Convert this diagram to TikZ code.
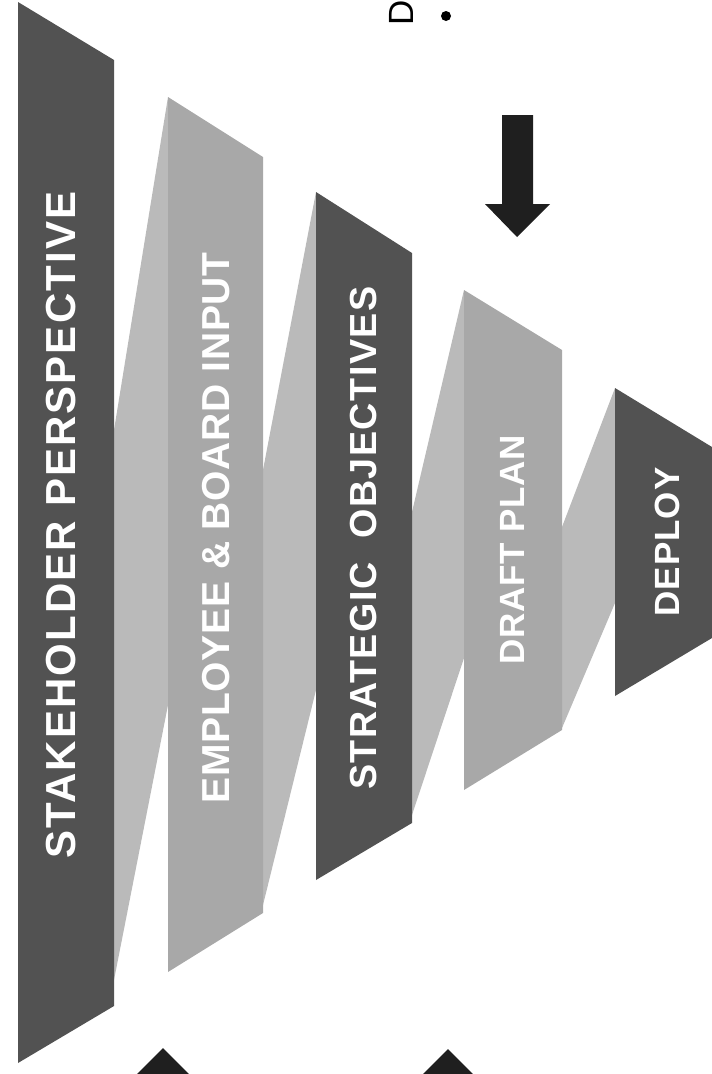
\documentclass[tikz,border=0pt]{standalone}
\usepackage{fontspec}
\setmainfont{Liberation Sans}
\definecolor{darkband}{gray}{0.32}
\definecolor{lightband}{gray}{0.66}
\definecolor{foldgray}{gray}{0.73}
\definecolor{arrowblack}{gray}{0.12}
\tikzset{
  darkfill/.style={fill=darkband, draw=none},
  lightfill/.style={fill=lightband, draw=none},
  foldfill/.style={fill=foldgray, draw=none},
  arrowfill/.style={fill=arrowblack, draw=none},
  bandtext/.style={text=white, rotate=90, inner sep=0pt, anchor=center},
}
\newcommand{\bandfontA}{\fontsize{42}{42}\selectfont\bfseries\addfontfeature{LetterSpace=5}}
\newcommand{\bandfontB}{\fontsize{39}{39}\selectfont\bfseries\addfontfeature{LetterSpace=2}}
\newcommand{\bandfontC}{\fontsize{37.7}{37.7}\selectfont\bfseries\addfontfeature{LetterSpace=4}}
\newcommand{\bandfontD}{\fontsize{35}{35}\selectfont\bfseries\addfontfeature{LetterSpace=2}}
\newcommand{\bandfontE}{\fontsize{35}{35}\selectfont\bfseries\addfontfeature{LetterSpace=3}}
\begin{document}
\begin{tikzpicture}[x=1pt,y=-1pt]
\useasboundingbox (0,0) rectangle (712,1074);
\clip (0,0) rectangle (712,1074);
% folds
\path[foldfill] (114,430) -- (168,97) -- (168,705) -- (114,980) -- cycle;
\path[foldfill] (263,470) -- (316,192) -- (316,690) -- (263,905) -- cycle;
\path[foldfill] (412,512) -- (464,290) -- (464,658) -- (412,815) -- cycle;
\path[foldfill] (562,527) -- (615,388) -- (615,603) -- (562,728) -- cycle;
% bands
\path[darkfill]  (18,2) -- (114,60) -- (114,1006) -- (18,1063) -- cycle;
\path[lightfill] (168,97) -- (263,157) -- (263,913) -- (168,972) -- cycle;
\path[darkfill]  (316,192) -- (412,253) -- (412,823) -- (316,880) -- cycle;
\path[lightfill] (464,290) -- (562,350) -- (562,730) -- (464,790) -- cycle;
\path[darkfill]  (615,388) -- (712,447) -- (712,638) -- (615,696) -- cycle;
% texts
\node[bandtext, font=\bandfontA] (t1) at (61,525) {STAKEHOLDER PERSPECTIVE};
\node[bandtext, font=\bandfontB] (t2) at (216,528) {EMPLOYEE \& BOARD INPUT};
\node[bandtext, font=\bandfontC] (t3) at (364,538) {STRATEGIC\ \ OBJECTIVES};
\node[bandtext, font=\bandfontD] (t4) at (512,550) {DRAFT PLAN};
\node[bandtext, font=\bandfontE] (t5) at (667,542) {DEPLOY};
% top fragment
\node[rotate=90, inner sep=0pt, anchor=base west, font=\fontsize{35}{35}\selectfont] (dtop) at (413,26) {D};
\node[circle, fill=black, minimum size=10pt, inner sep=0pt] (dot) at (446,16) {};
% arrows
\path[arrowfill] (502,115) -- (533,115) -- (533,204) -- (550,204) -- (517,237) -- (485,204) -- (502,204) -- cycle;
\path[arrowfill] (163,1048) -- (203,1088) -- (123,1088) -- cycle;
\path[arrowfill] (448,1049) -- (488,1089) -- (408,1089) -- cycle;
\end{tikzpicture}
\end{document}
